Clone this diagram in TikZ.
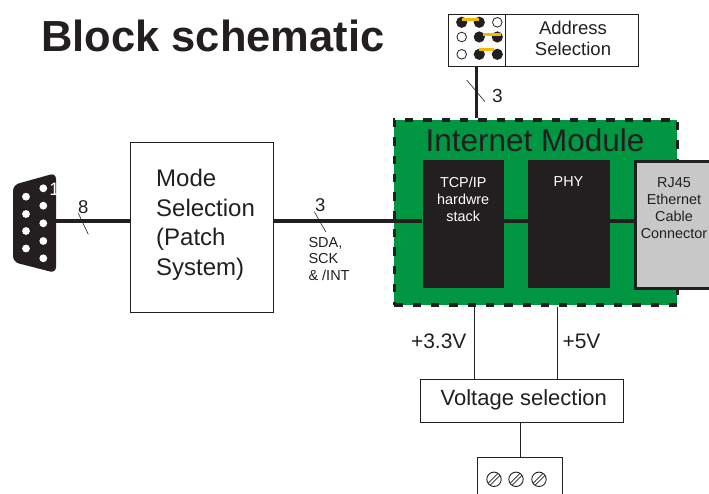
\documentclass[tikz,border=0pt]{standalone}
\usepackage{fontspec}
\setmainfont{Liberation Sans}
\definecolor{modgreen}{RGB}{0,150,66}
\definecolor{ink}{RGB}{35,31,32}
\definecolor{rjgray}{RGB}{200,200,200}
\definecolor{jumper}{RGB}{245,184,0}
\newcommand\fsz[2]{\fontsize{#1}{#2}\selectfont}
\begin{document}
\begin{tikzpicture}[x=1pt,y=-1pt,
  box/.style={draw=ink, line width=0.9pt, anchor=north west, inner sep=0pt},
  bus/.style={draw=ink, line width=3.2pt},
  wire/.style={draw=ink, line width=0.9pt},
  tick/.style={draw=ink, line width=0.6pt},
  lbl/.style={text=ink, inner sep=0pt},
  chip/.style={fill=ink, anchor=north west, inner sep=0pt},
  pinfull/.style={fill=ink},
  pinempty/.style={draw=ink, line width=0.8pt, fill=white},
]
\useasboundingbox (0,0) rectangle (709,494);
% title
\node[lbl, anchor=base west, font=\fsz{43.5}{50}\bfseries] (title) at (41,51.7) {Block schematic};

% address selection
\node[box, minimum width=190pt, minimum height=52pt] (addr) at (448,14) {};
\draw[wire] ([xshift=57.7pt]addr.north west) -- ([xshift=57.7pt]addr.south west);
\node[lbl, align=center, font=\fsz{18.5}{21}] (addrtxt) at (573,38.5) {Address\\Selection};
\foreach \x/\y in {461.7/22.3, 479.3/22.3, 479.3/37, 497.3/37, 479.3/54.3, 497.3/54.3}
  \fill[pinfull] (\x,\y) circle[radius=5.6pt];
\foreach \x/\y in {497.3/22.3, 461.7/37, 461.7/54.3}
  \draw[pinempty] (\x,\y) circle[radius=4.8pt];
\draw[jumper, line width=3pt] (461.7,19.3) -- (479.3,19.3);
\draw[jumper, line width=3pt] (482.7,34.3) -- (500.7,34.3);
\draw[jumper, line width=3pt] (479.3,49.3) -- (494.3,49.3);

% internet module
\node[fill=modgreen, draw=ink, line width=3.8pt, dash pattern=on 8.3pt off 10pt, minimum width=283pt, minimum height=185pt, anchor=north west, inner sep=0pt] (mod) at (392.5,118) {};
\node[lbl, font=\fsz{31.5}{36}, anchor=base] (modtitle) at (535,151.7) {Internet Module};
\node[chip, minimum width=81.7pt, minimum height=127.3pt] (tcp) at (422.3,160) {};
\node[chip, minimum width=81.6pt, minimum height=127.3pt] (phy) at (527.7,160) {};
\node[fill=rjgray, draw=ink, line width=3pt, anchor=north west, minimum width=95pt, minimum height=126.7pt, inner sep=0pt] (rj) at (634.3,160) {};
\node[lbl, text=white, align=center, font=\fsz{14.4}{17.2}] (tcptxt) at (463.2,199.5) {TCP/IP\\hardwre\\stack};
\node[lbl, text=white, font=\fsz{14.4}{17.2}] (phytxt) at (568.5,182) {PHY};
\node[lbl, align=center, font=\fsz{14.4}{16.8}] (rjtxt) at (674,208) {RJ45\\Ethernet\\Cable\\Connector};

% address bus
\coordinate (ax) at (476.7,0);
\draw[bus] (addr.south -| ax) -- (mod.north -| ax);
\draw[tick] (466.7,80) -- (485,101.7);
\node[lbl, font=\fsz{19}{20}] (n3a) at (497.3,96) {3};

% DB9 connector
\fill[ink, rounded corners=6pt] (13,185) -- (56,173) -- (56,273) -- (13,262) -- cycle;
\foreach \y in {196.7, 214, 231, 248.5}
  \fill[white] (26,\y) circle[radius=3.9pt];
\foreach \y in {188.3, 205.7, 223.3, 241, 258.3}
  \fill[white] (43.3,\y) circle[radius=3.9pt];
\node[lbl, text=white, font=\fsz{18}{20}] (n1) at (54.5,189) {1};
\coordinate (db9r) at (56,221);
\coordinate (by) at (0,221);

% mode selection
\node[box, minimum width=143.3pt, minimum height=170pt] (mode) at (130,141.7) {};
\node[lbl, align=left, font=\fsz{24}{29.5}, anchor=west] (modetxt) at (156,224.7) {Mode\\Selection\\(Patch\\System)};

% buses
\draw[bus] (db9r) -- (mode.west |- by);
\draw[bus] (mode.east |- by) -- (tcp.west |- by);
\draw[bus] (tcp.east |- by) -- (phy.west |- by);
\draw[bus] (phy.east |- by) -- (rj.west |- by);
\node[lbl, font=\fsz{18.5}{20}] (n8) at (83.3,207) {8};
\draw[tick] (78.3,213.3) -- (88.3,234.3);
\node[lbl, font=\fsz{18.5}{20}] (n3m) at (320.3,205) {3};
\draw[tick] (314.3,211.7) -- (325.7,231.7);
\node[lbl, align=left, anchor=west, font=\fsz{14.5}{16.7}] (sda) at (308.3,259) {SDA,\\SCK\\\& /INT};

% voltage selection
\node[box, minimum width=202.7pt, minimum height=42.4pt] (volt) at (420,379.3) {};
\node[lbl, font=\fsz{22}{26}] (volttxt) at (523.8,400) {Voltage selection};
\coordinate (v1) at (474,0);
\coordinate (v2) at (557.7,0);
\draw[wire] (mod.south -| v1) -- (volt.north -| v1);
\draw[wire] (mod.south -| v2) -- (volt.north -| v2);
\node[lbl, anchor=east, font=\fsz{21}{24}] (l33) at (466.7,341.7) {+3.3V};
\node[lbl, anchor=west, font=\fsz{21}{24}] (l5) at (562.3,341.7) {+5V};

% terminal block
\node[box, minimum width=84.4pt, minimum height=60pt] (term) at (477.3,457.3) {};
\draw[wire] (term.north |- volt.south) -- (term.north);
\foreach \x in {494,516,539} {
  \draw[ink, line width=0.9pt] (\x,479.3) circle[radius=7.2pt];
  \draw[ink, line width=0.7pt] (\x-4.9+1,484.2+1) -- (\x+4.9+1,474.4+1);
  \draw[ink, line width=0.7pt] (\x-4.9-1,484.2-1) -- (\x+4.9-1,474.4-1);
}
\end{tikzpicture}
\end{document}
